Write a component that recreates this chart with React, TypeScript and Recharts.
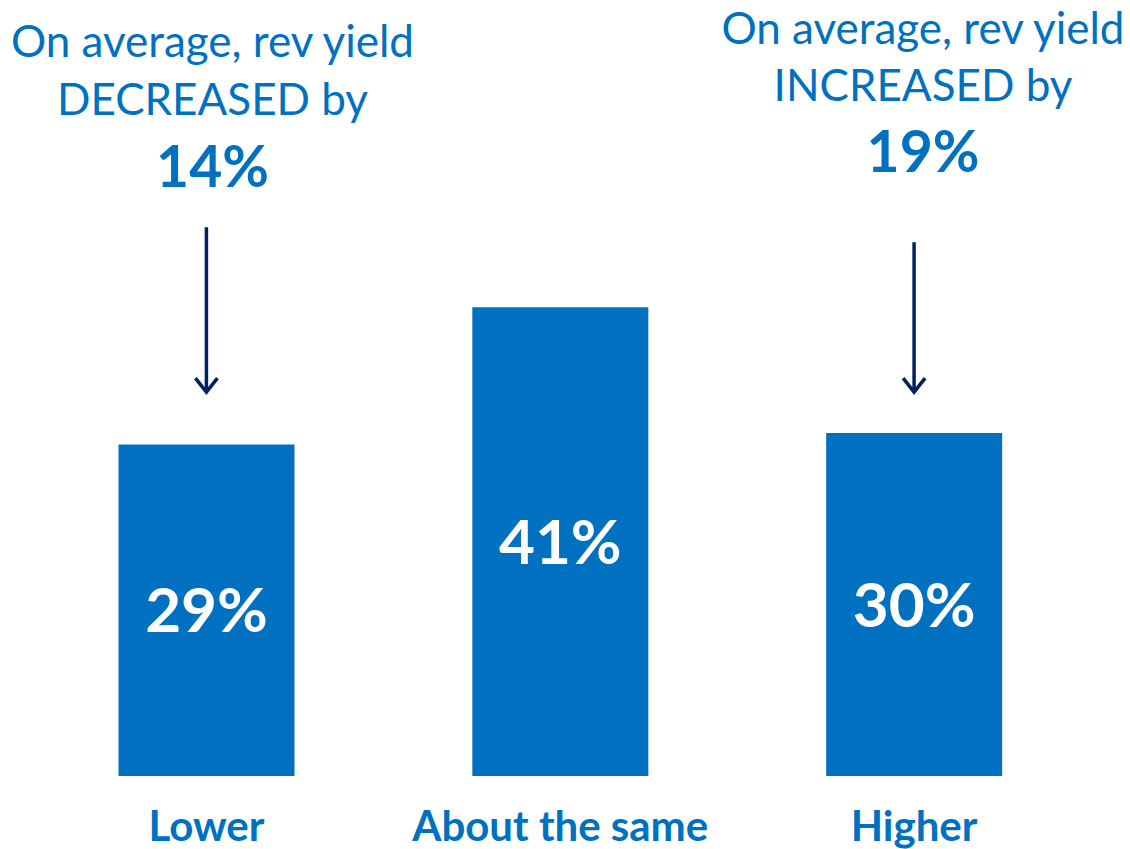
import React from 'react';
import { BarChart, Bar, XAxis, YAxis, LabelList, ReferenceLine } from 'recharts';

const categories = ['Lower', 'About the same', 'Higher'];
const shares = [29, 41, 30];
const arrowTop = [48, 46.7];
const arrowBottom = 33.5;
const leftNote = ['On average, rev yield', 'DECREASED by', '14%'];
const rightNote = ['On average, rev yield', 'INCREASED by', '19%'];

const data = categories.map((c, i) => ({ name: c, value: shares[i] }));

const BLUE = '#0070C0';
const NAVY = '#002060';
const FONT = 'Lato, "Open Sans", sans-serif';

const Arrow = (props: any) => {
  const { x1, y1, x2, y2 } = props;
  return (
    <g>
      <line x1={x1} y1={y1} x2={x2} y2={y2 - 1} stroke={NAVY} strokeWidth={3.5} />
      <polyline
        points={`${x2 - 11},${y2 - 15} ${x2},${y2 - 1} ${x2 + 11},${y2 - 15}`}
        fill="none"
        stroke={NAVY}
        strokeWidth={3.5}
      />
    </g>
  );
};

const Tick = (props: any) => {
  const { x, y, payload } = props;
  return (
    <text x={x} y={y + 65} textAnchor="middle" fill={BLUE} fontFamily={FONT} fontWeight="bold" fontSize={42}>
      {payload.value}
    </text>
  );
};

const Note = ({ lines, cx, baselines }: { lines: string[]; cx: number; baselines: number[] }) => (
  <g fontFamily={FONT} fill={BLUE} textAnchor="middle">
    <text x={cx} y={baselines[0]} fontSize={44}>{lines[0]}</text>
    <text x={cx} y={baselines[1]} fontSize={44}>{lines[1]}</text>
    <text x={cx} y={baselines[2]} fontSize={57} fontWeight="bold">{lines[2]}</text>
  </g>
);

export default function App() {
  return (
    <div style={{ position: 'absolute', left: 0, top: 0, width: 1130, height: 849, background: '#fff' }}>
      <BarChart
        width={1130}
        height={849}
        data={data}
        margin={{ top: 204.5, right: 39, left: 29.5, bottom: 0 }}
      >
        <XAxis
          dataKey="name"
          axisLine={false}
          tickLine={false}
          tickSize={0}
          tickMargin={0}
          height={73}
          tick={<Tick />}
          interval={0}
        />
        <YAxis hide domain={[0, 50]} />
        <Bar dataKey="value" fill={BLUE} barSize={176} isAnimationActive={false}>
          <LabelList
            dataKey="value"
            position="center"
            formatter={(v: any) => `${v}%`}
            fill="#fff"
            fontSize={62}
            fontWeight="bold"
            fontFamily={FONT}
          />
        </Bar>
        <ReferenceLine
          segment={[{ x: categories[0], y: arrowTop[0] }, { x: categories[0], y: arrowBottom }]}
          shape={<Arrow />}
          ifOverflow="visible"
        />
        <ReferenceLine
          segment={[{ x: categories[2], y: arrowTop[1] }, { x: categories[2], y: arrowBottom }]}
          shape={<Arrow />}
          ifOverflow="visible"
        />
      </BarChart>
      <svg width={1130} height={849} style={{ position: 'absolute', left: 0, top: 0, pointerEvents: 'none' }}>
        <Note lines={leftNote} cx={212.5} baselines={[57, 115, 187]} />
        <Note lines={rightNote} cx={923} baselines={[44, 101, 172]} />
      </svg>
    </div>
  );
}
